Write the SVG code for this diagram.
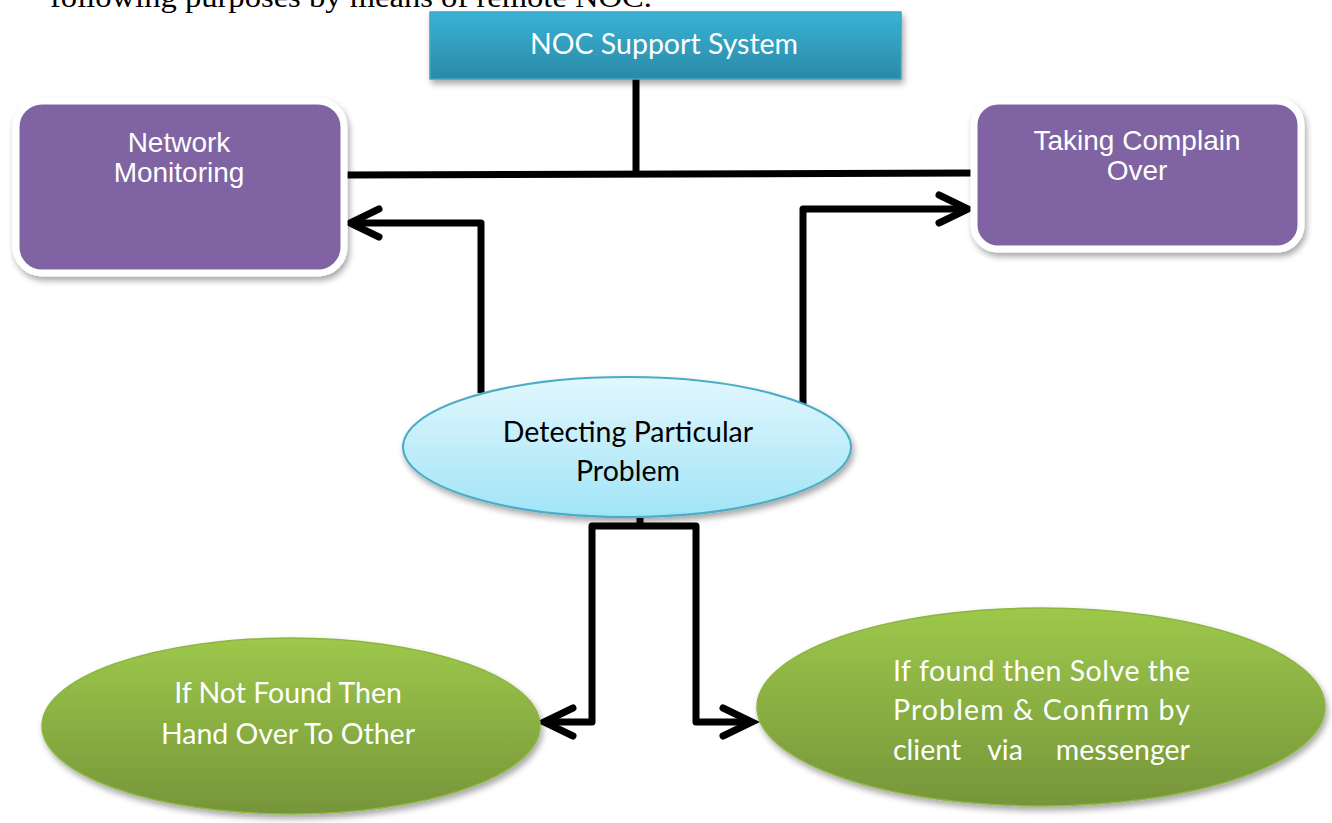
<svg xmlns="http://www.w3.org/2000/svg" width="1332" height="823" viewBox="0 0 1332 823">
  <defs>
    <linearGradient id="gBlue" x1="0" y1="0" x2="0" y2="1">
      <stop offset="0" stop-color="#38b3d5"/>
      <stop offset="1" stop-color="#2b89a7"/>
    </linearGradient>
    <linearGradient id="gCyan" x1="0" y1="0" x2="0" y2="1">
      <stop offset="0" stop-color="#e2f7fd"/>
      <stop offset="1" stop-color="#a1e4f7"/>
    </linearGradient>
    <linearGradient id="gGreen" x1="0" y1="0" x2="0" y2="1">
      <stop offset="0" stop-color="#9dc84b"/>
      <stop offset="1" stop-color="#76953a"/>
    </linearGradient>
    <filter id="shadow" x="-10%" y="-10%" width="125%" height="130%">
      <feDropShadow dx="2" dy="4" stdDeviation="3" flood-color="#000" flood-opacity="0.35"/>
    </filter>
    <marker id="chev" viewBox="-40 -25 50 50" refX="0" refY="0" markerWidth="50" markerHeight="50" markerUnits="userSpaceOnUse" orient="auto">
      <path d="M-29,-14 L0,0 L-29,14" fill="none" stroke="#000" stroke-width="7" stroke-linecap="round" stroke-linejoin="miter"/>
    </marker>
    <style>
      .conn { fill: none; stroke: #000; stroke-width: 7; stroke-linejoin: round; }
      .arial { font-family: "Liberation Sans", Arial, sans-serif; font-size: 28px; fill: #fff; text-anchor: middle; }
      .cal { font-family: Lato, "Open Sans", sans-serif; font-size: 28.5px; text-anchor: middle; }
      .cal.lft { text-anchor: start; }
      .purple { fill: #8064a2; stroke: #fff; stroke-width: 7; }
    </style>
  </defs>

  <text x="50" y="7" font-family="'Liberation Serif', 'Times New Roman', serif" font-size="30" fill="#000" textLength="602" lengthAdjust="spacingAndGlyphs">following purposes by means of remote NOC.</text>

  <g id="connectors">
    <path class="conn" d="M636,79 V174"/>
    <path class="conn" d="M346,175 L972,173" stroke-linecap="butt"/>
    <path class="conn" d="M481,393 V223 H350" marker-end="url(#chev)"/>
    <path class="conn" d="M803,405 V209 H968" marker-end="url(#chev)"/>
    <path class="conn" d="M640,518 V526"/>
    <path class="conn" d="M640,526 H592 V722 H544" marker-end="url(#chev)"/>
    <path class="conn" d="M640,526 H696 V722 H752" marker-end="url(#chev)"/>
  </g>

  <g id="noc-support-system">
    <rect x="430" y="12" width="471" height="67" fill="url(#gBlue)" stroke="#3aa6c6" stroke-width="1.5" filter="url(#shadow)"/>
    <text class="cal" x="664" y="54" fill="#fff">NOC Support System</text>
  </g>

  <g id="network-monitoring">
    <rect class="purple" x="16" y="101" width="328" height="172" rx="26" filter="url(#shadow)"/>
    <text class="arial" x="179" y="152">Network</text>
    <text class="arial" x="179" y="182">Monitoring</text>
  </g>

  <g id="taking-complain-over">
    <rect class="purple" x="974" y="101" width="327" height="148" rx="24" filter="url(#shadow)"/>
    <text class="arial" x="1137" y="150">Taking Complain</text>
    <text class="arial" x="1137" y="180">Over</text>
  </g>

  <g id="detecting-particular-problem">
    <ellipse cx="627" cy="447" rx="224" ry="70" fill="url(#gCyan)" stroke="#4bacc6" stroke-width="2" filter="url(#shadow)"/>
    <text class="cal" x="628" y="442" fill="#000">Detecting Particular</text>
    <text class="cal" x="628" y="481" fill="#000">Problem</text>
  </g>

  <g id="hand-over">
    <ellipse cx="291" cy="726" rx="249" ry="88" fill="url(#gGreen)" stroke="#8db543" stroke-width="1.5" filter="url(#shadow)"/>
    <text class="cal" x="288" y="703" fill="#fff">If Not Found Then</text>
    <text class="cal" x="288" y="744" fill="#fff">Hand Over To Other</text>
  </g>

  <g id="solve-problem">
    <ellipse cx="1041" cy="707" rx="284" ry="99" fill="url(#gGreen)" stroke="#8db543" stroke-width="1.5" filter="url(#shadow)"/>
    <text class="cal lft" x="893" y="681" fill="#fff" textLength="297" lengthAdjust="spacing">If found then Solve the</text>
    <text class="cal lft" x="893" y="720" fill="#fff" textLength="297" lengthAdjust="spacing">Problem &amp; Confirm by</text>
    <text class="cal" y="760" fill="#fff"><tspan x="893" style="text-anchor:start">client</tspan><tspan x="1005" style="text-anchor:middle">via</tspan><tspan x="1190" style="text-anchor:end">messenger</tspan></text>
  </g>
</svg>
